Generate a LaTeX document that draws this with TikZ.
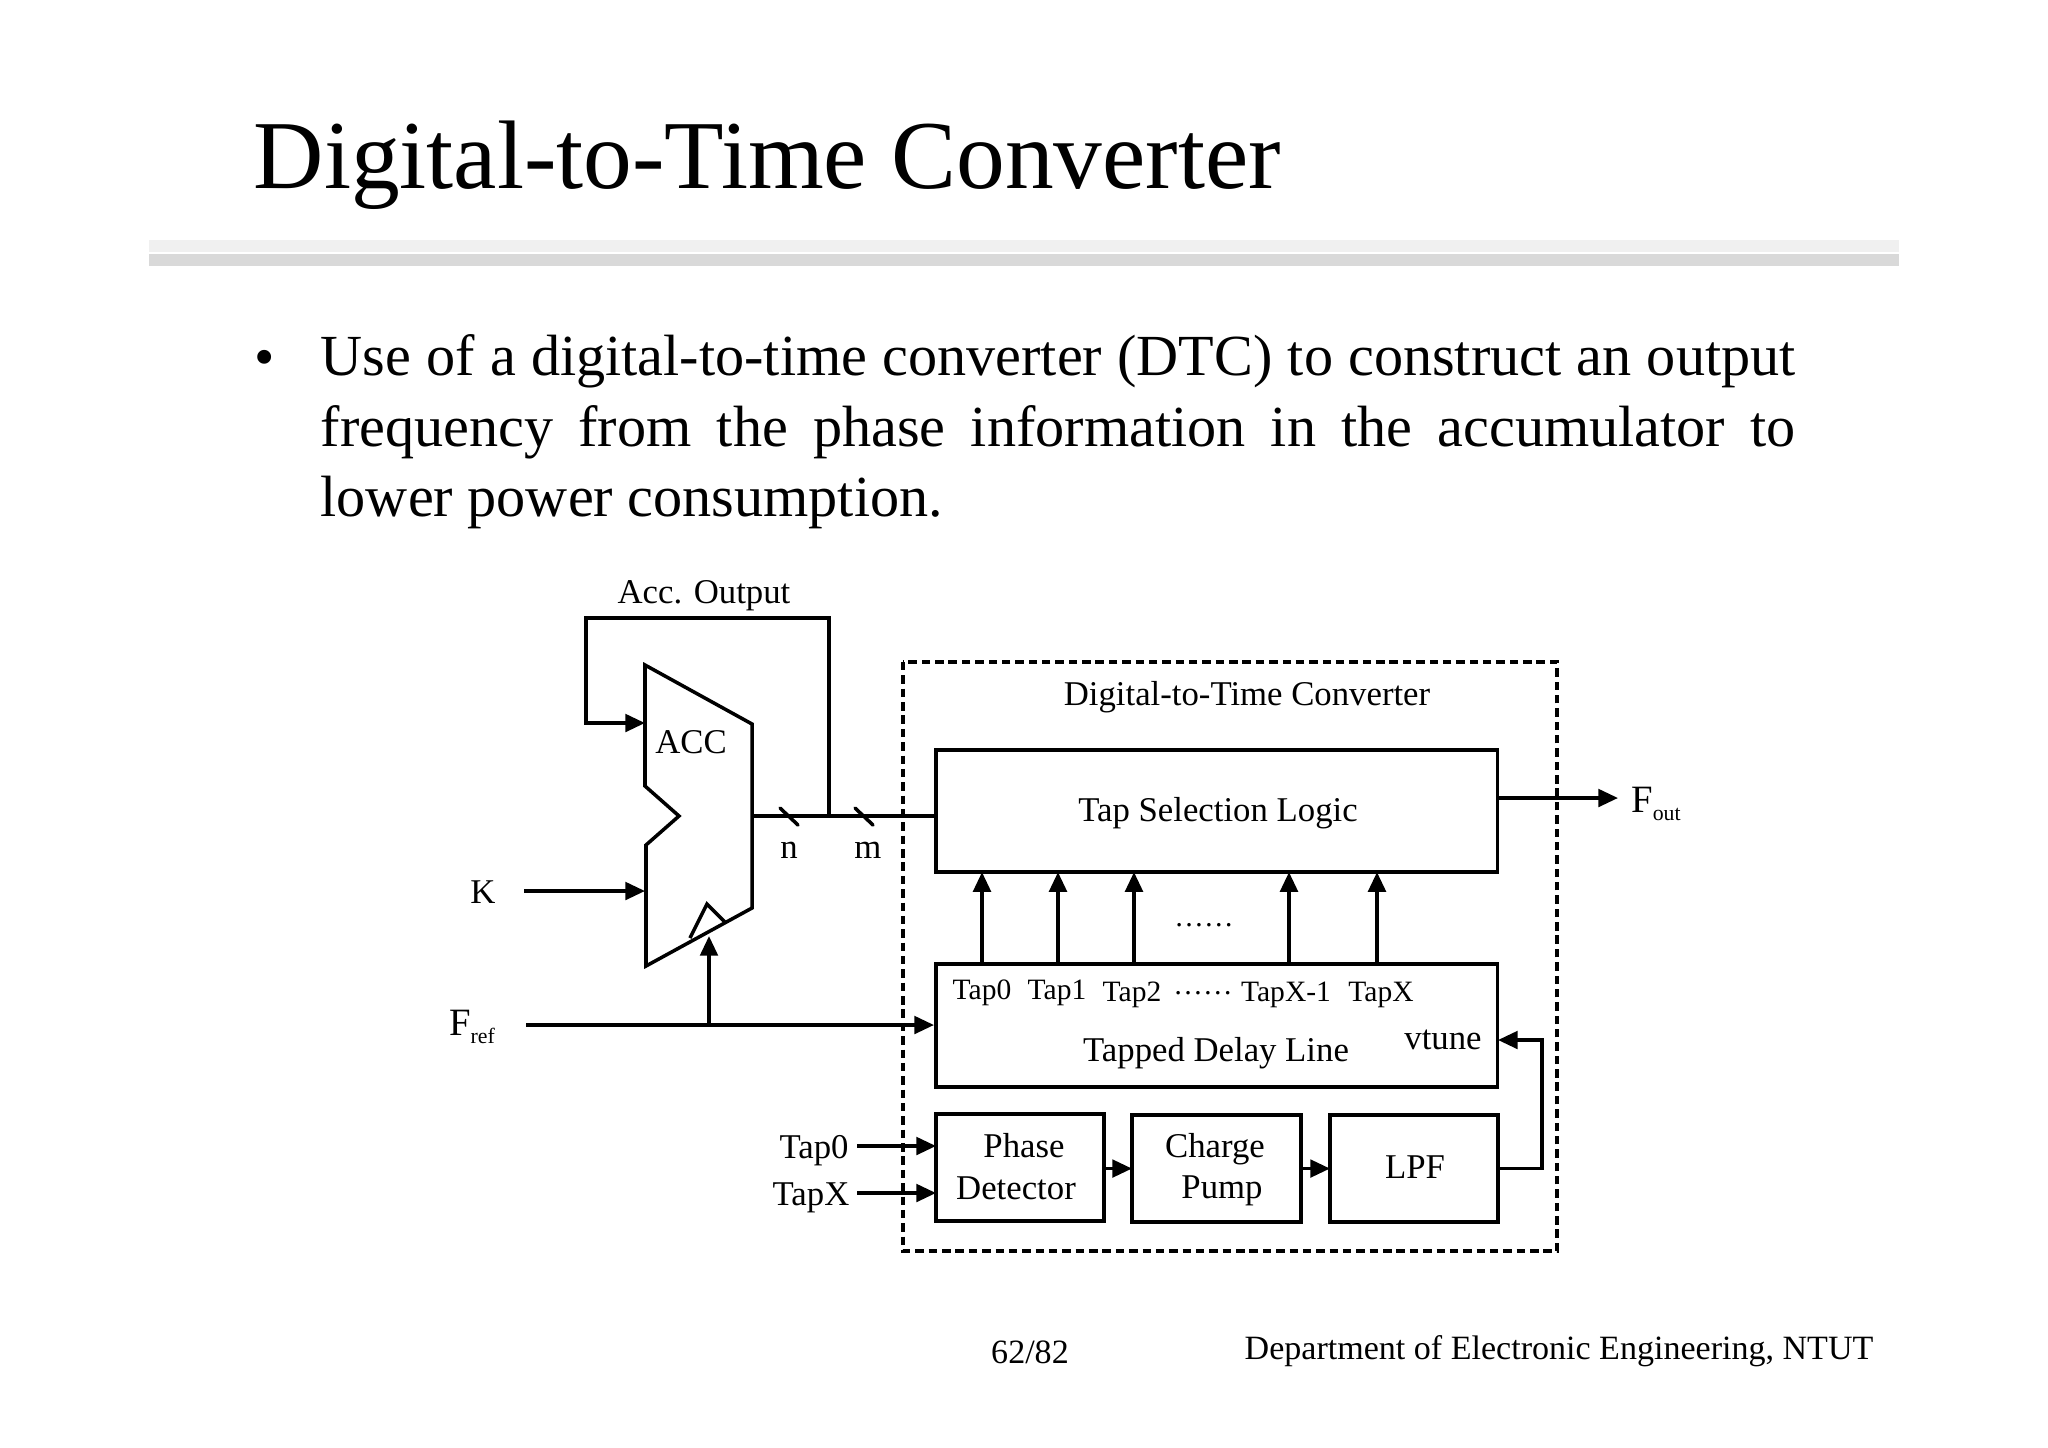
\documentclass[tikz,border=0pt]{standalone}
\usepackage{fontspec}
\setmainfont{Liberation Serif}
\usetikzlibrary{arrows.meta}
\newcommand{\subfont}[1]{\raisebox{-2.2pt}{\fontsize{6.2}{7}\selectfont #1}}
\tikzset{
  wire/.style={line width=1pt,line join=miter},
  sig/.style={wire,-{Triangle[length=5.6pt,width=5pt]}},
  blockbox/.style={draw,line width=1pt,inner sep=0pt,outer sep=0pt,anchor=north west},
  lbl/.style={inner sep=0pt,font=\fontsize{9.88}{11.8}\selectfont},
  taplbl/.style={inner sep=0pt,font=\fontsize{8.4}{10}\selectfont},
  footlbl/.style={inner sep=0pt,font=\fontsize{9.68}{11.8}\selectfont}
}
\begin{document}
\begin{tikzpicture}[x=0.01cm,y=-0.01cm]
  \useasboundingbox (0,0) rectangle (2048,1447);
  % slide head
  \node[inner sep=0pt,anchor=base west,font=\fontsize{27.7}{30}\selectfont] (title) at (253,188) {Digital-to-Time Converter};
  \fill[black!6] (149,240) rectangle (1899,252);
  \fill[black!15] (149,254) rectangle (1899,266);
  \node[inner sep=0pt,font=\fontsize{16.5}{20}\selectfont] (dot) at (265,363) {•};
  \node[inner sep=0pt,anchor=north west,text width=14.74cm,align=justify,font=\fontsize{16.55}{20.05}\selectfont] (body) at (320,334)
    {Use of a digital-to-time converter (DTC) to construct an \mbox{output} frequency from the phase information in the accumulator to lower power consumption.};
  % accumulator
  \coordinate (a0) at (645,665);
  \coordinate (a1) at (752,724);
  \coordinate (a2) at (752,908);
  \coordinate (a3) at (646,966);
  \coordinate (a4) at (646,845);
  \coordinate (a5) at (679,816);
  \coordinate (a6) at (645,786);
  \draw[wire] (a0) -- (a1) -- (a2) -- (a3) -- (a4) -- (a5) -- (a6) -- cycle;
  \draw[wire] (690,938) -- (707,904) -- (725,922);
  \node[lbl] (acc) at (691,742) {ACC};
  \node[lbl] (accout) at (704,596) {Acc. Output};
  \node[lbl] (k) at (483,892) {K};
  \node[lbl,font=\fontsize{11}{12}\selectfont] (fref) at (472,1027) {F\subfont{ref}};
  \node[lbl] (n) at (789,850) {n};
  \node[lbl] (m) at (868,850) {m};
  % converter
  \draw[wire,dash pattern=on 2.4pt off 1.4pt] (903,662) rectangle (1557,1251);
  \node[lbl] (dtc) at (1247,697) {Digital-to-Time Converter};
  \node[blockbox,minimum width=5.61cm,minimum height=1.22cm] (tsl) at (936,750) {};
  \node[blockbox,minimum width=5.61cm,minimum height=1.23cm] (tdl) at (936,964) {};
  \node[blockbox,minimum width=1.68cm,minimum height=1.07cm] (pd) at (936,1114) {};
  \node[blockbox,minimum width=1.69cm,minimum height=1.07cm] (cp) at (1132,1115) {};
  \node[blockbox,minimum width=1.68cm,minimum height=1.07cm] (lpf) at (1330,1115) {};
  \node[lbl] (tsltext) at (1218,813) {Tap Selection Logic};
  \node[lbl] (tdltext) at (1216,1053) {Tapped Delay Line};
  \node[lbl] (vtune) at (1443,1040) {vtune};
  \node[lbl] (phase) at (1024,1146) {Phase};
  \node[lbl] (detector) at (1016,1188) {Detector};
  \node[lbl] (charge) at (1215,1149) {Charge};
  \node[lbl] (pump) at (1222,1191) {Pump};
  \node[lbl] (lpftext) at (1415,1167) {LPF};
  \node[taplbl] (l0) at (982,993) {Tap0};
  \node[taplbl] (l1) at (1057,993) {Tap1};
  \node[taplbl] (l2) at (1132,995) {Tap2};
  \node[taplbl] (ldots) at (1203,993) {\ldots\ldots};
  \node[taplbl] (lxm) at (1286,995) {TapX-1};
  \node[taplbl] (lx) at (1381,995) {TapX};
  \node[taplbl] (dots) at (1204,925) {\ldots\ldots};
  % outside labels
  \node[lbl,font=\fontsize{11}{12}\selectfont] (fout) at (1656,804) {F\subfont{out}};
  \node[lbl] (tap0in) at (814,1151) {Tap0};
  \node[lbl] (tapxin) at (811,1198) {TapX};
  \node[footlbl] (pagenum) at (1030,1352) {62/82};
  \node[footlbl,anchor=east] (dept) at (1874,1351) {Department of Electronic Engineering, NTUT};
  % connectors
  \coordinate (fb) at (829,816);
  \coordinate (acctop) at (645,723);
  \coordinate (accout0) at (752,816);
  \draw[sig] (fb) -- (829,618) -- (586,618) -- (586,723) -- (acctop);
  \draw[wire] (accout0) -- (fb) -- (tsl.west |- fb);
  \draw[wire,line cap=round] (780,808) -- (798,825);
  \draw[wire,line cap=round] (855,808) -- (873,825);
  \coordinate (kin) at (524,891);
  \coordinate (kacc) at (645,891);
  \draw[sig] (kin) -- (kacc);
  \coordinate (frefin) at (526,1025);
  \coordinate (frefj) at (709,1025);
  \coordinate (frefacc) at (709,936);
  \coordinate (frefdl) at (934,1025);
  \draw[sig] (frefin) -- (frefdl);
  \draw[sig] (frefj) -- (frefacc);
  \foreach \x/\name in {982/t0,1058/t1,1134/t2,1289/t3,1377/t4}{
    \coordinate (\name) at (\x,964);
    \draw[sig] (\name) -- (\name |- tsl.south);
  }
  \coordinate (foutin) at (1497,798);
  \coordinate (foutend) at (1618,798);
  \draw[sig] (foutin) -- (foutend);
  \coordinate (in0) at (857,1146);
  \coordinate (in1) at (857,1193);
  \draw[sig] (in0) -- (in0 -| pd.west);
  \draw[sig] (in1) -- (in1 -| pd.west);
  \draw[sig] (pd.east |- cp.east) -- (cp.west);
  \draw[sig] (cp.east) -- (lpf.west);
  \coordinate (vtb) at (1542,1040);
  \coordinate (vt) at (1498,1040);
  \draw[sig] (lpf.east) -| (vtb) -- (vt);
\end{tikzpicture}
\end{document}
